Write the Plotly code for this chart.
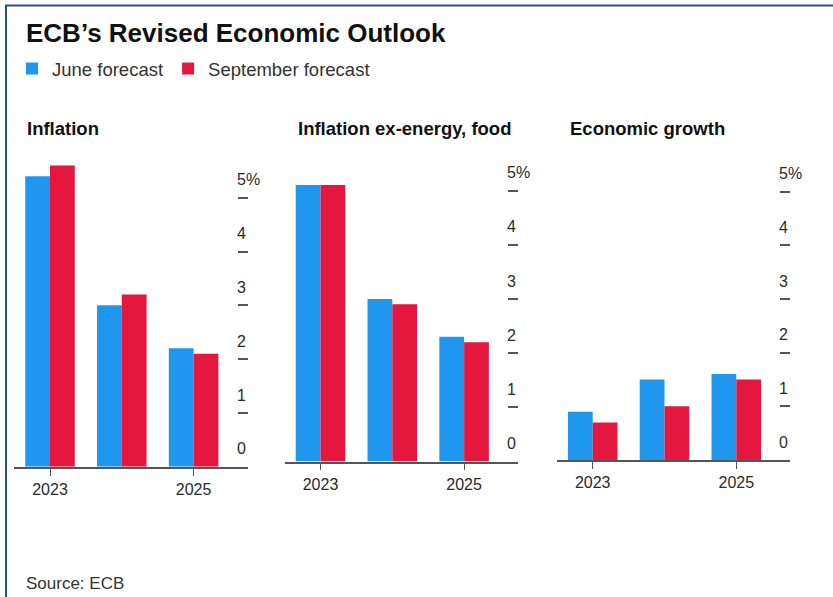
import plotly.graph_objects as go

W, H = 833, 597

years = [2023, 2024, 2025]
year_ticks = [2023, 2025]
panel_titles = ["Inflation", "Inflation ex-energy, food", "Economic growth"]
june_inflation = [5.4, 3.0, 2.2]
sept_inflation = [5.6, 3.2, 2.1]
june_core = [5.1, 3.0, 2.3]
sept_core = [5.1, 2.9, 2.2]
june_growth = [0.9, 1.5, 1.6]
sept_growth = [0.7, 1.0, 1.5]
y_tickvals = [0, 1, 2, 3, 4, 5]
y_ticktext = ["0", "1", "2", "3", "4", "5%"]
series_names = ["June forecast", "September forecast"]

BLUE = "#1f97ef"
RED = "#e5173f"
TXT = "#2a2a2a"
FONT = "Liberation Sans, Arial, sans-serif"

june = [june_inflation, june_core, june_growth]
sept = [sept_inflation, sept_core, sept_growth]

def px_x(p):
    return p / W

def px_y(p):
    return 1 - p / H

# layout geometry in pixels
panels = [
    dict(c0=50.0, right=248.0, zero=466.7, unit=53.8, tx=25),
    dict(c0=320.5, right=518.0, zero=461.5, unit=54.2, tx=296),
    dict(c0=592.7, right=790.0, zero=460.0, unit=53.7, tx=568),
]
cat_px = 71.8
ymax = 5.9

fig = go.Figure()
layout = dict(
    width=W, height=H,
    margin=dict(l=0, r=0, t=0, b=0, autoexpand=False),
    paper_bgcolor="white", plot_bgcolor="white",
    barmode="group", bargap=0.31, bargroupgap=0.0,
    font=dict(family=FONT, color=TXT),
    hovermode=False,
)

annotations = []
for i, p in enumerate(panels):
    n = "" if i == 0 else str(i + 1)
    xa, ya = "x" + n, "y" + n
    left = p["c0"] - 0.5 * cat_px
    rmax = (p["right"] - p["c0"]) / cat_px
    top = p["zero"] - ymax * p["unit"]
    fig.add_trace(go.Bar(x=years, y=june[i], name=series_names[0], marker_color=BLUE,
                         marker_line_width=0, xaxis=xa, yaxis=ya, showlegend=(i == 0),
                         legendgroup="j", offsetgroup="j"))
    fig.add_trace(go.Bar(x=years, y=sept[i], name=series_names[1], marker_color=RED,
                         marker_line_width=0, xaxis=xa, yaxis=ya, showlegend=(i == 0),
                         legendgroup="s", offsetgroup="s"))
    layout["xaxis" + n] = dict(
        domain=[px_x(left), px_x(p["right"])],
        range=[years[0] - 0.5, years[0] + rmax],
        anchor=ya, tickmode="array", tickvals=year_ticks,
        ticks="outside", ticklen=7, tickwidth=1.3, tickcolor="#555",
        showline=True, linecolor="#555", linewidth=1.6,
        showgrid=False, zeroline=False, fixedrange=True, automargin=False,
        tickfont=dict(size=16, color=TXT, family=FONT),
    )
    layout["yaxis" + n] = dict(
        domain=[px_y(p["zero"]), px_y(top)],
        range=[0, ymax], anchor=xa, side="right",
        tickmode="array", tickvals=y_tickvals, ticktext=y_ticktext,
        ticks="inside", ticklen=10, tickwidth=1.6, tickcolor="#555",
        ticklabelshift=-18, ticklabelstandoff=-12,
        showline=False, showgrid=False, zeroline=False, fixedrange=True,
        automargin=False,
        tickfont=dict(size=16, color=TXT, family=FONT),
    )
    annotations.append(dict(
        text="<b>%s</b>" % panel_titles[i], xref="paper", yref="paper",
        x=px_x(p["tx"]), y=px_y(129), xanchor="left", yanchor="middle",
        showarrow=False, font=dict(size=18.5, color="#111", family=FONT),
    ))

annotations.append(dict(
    text="Source: ECB", xref="paper", yref="paper",
    x=px_x(24), y=px_y(583), xanchor="left", yanchor="middle",
    showarrow=False, font=dict(size=17, color="#333", family=FONT),
))

layout["annotations"] = annotations
layout["title"] = dict(
    text="<b>ECB’s Revised Economic Outlook</b>",
    x=px_x(26), xref="paper", xanchor="left",
    y=px_y(33), yref="paper", yanchor="middle",
    font=dict(size=26, color="#111", family=FONT),
)
layout["legend"] = dict(
    orientation="h", x=px_x(12), y=px_y(69), xanchor="left", yanchor="middle",
    font=dict(size=18.5, color="#333", family=FONT), itemwidth=30,
    bgcolor="rgba(0,0,0,0)", traceorder="normal",
)
layout["shapes"] = [dict(
    type="rect", xref="paper", yref="paper",
    x0=px_x(6), x1=px_x(W + 20), y0=px_y(5.5), y1=px_y(H + 20),
    line=dict(color="#2b4f8a", width=2), fillcolor="rgba(0,0,0,0)", layer="above",
)]

fig.update_layout(**layout)
fig.write_html(
    "out.html",
    config={"displayModeBar": False},
    post_script="document.body.style.margin='0';document.body.style.overflow='hidden';",
)
